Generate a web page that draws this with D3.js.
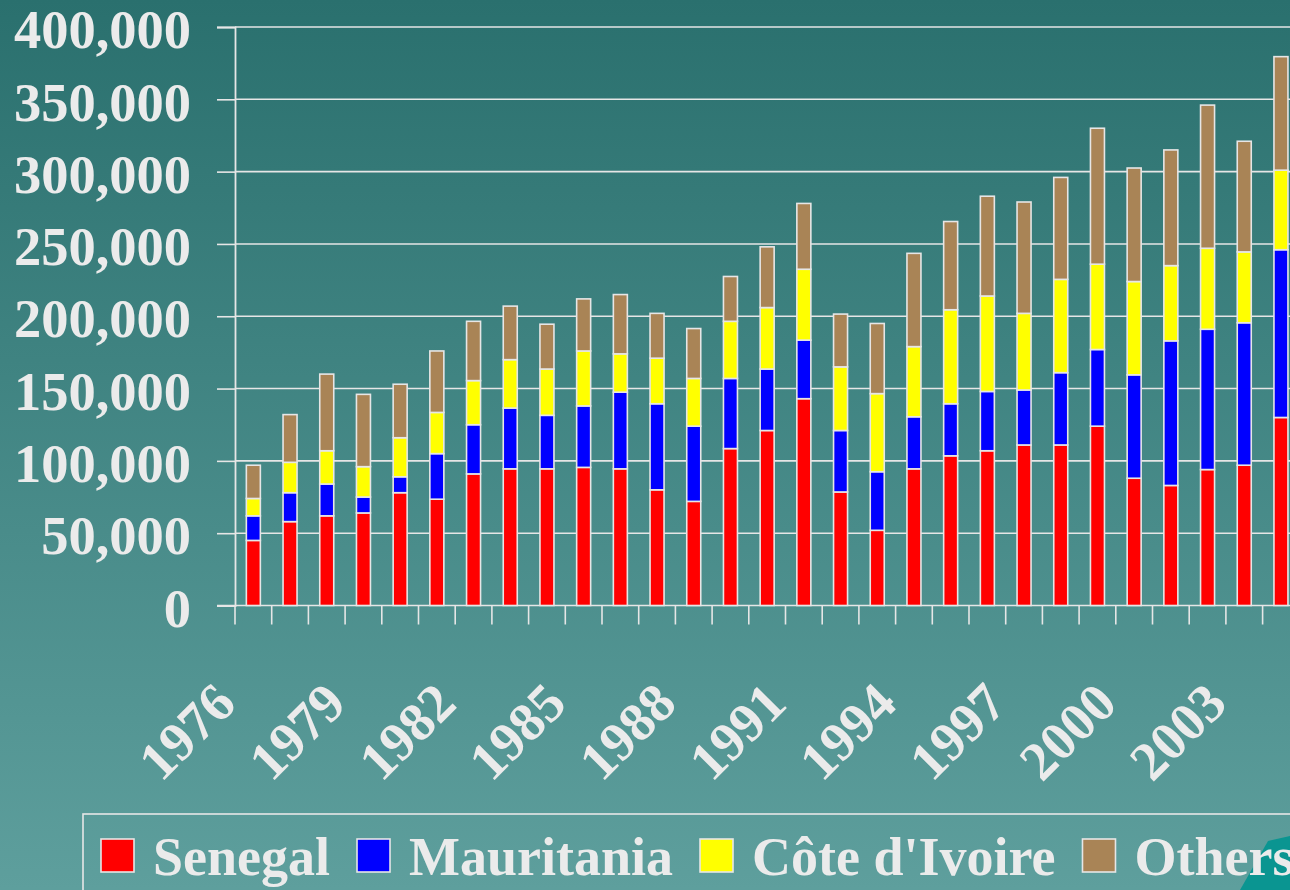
<!DOCTYPE html>
<html>
<head>
<meta charset="utf-8">
<script src="https://cdn.jsdelivr.net/npm/d3@7"></script>
<style>
  body { margin: 0; padding: 0; overflow: hidden; }
  svg text { font-family: "Liberation Serif", "Times New Roman", serif; font-weight: bold; fill: #ebebeb; }
</style>
</head>
<body>
<div id="chart"></div>
<script>
// years on the category axis
var years = d3.range(1976, 2005);

// catches per country, in tonnes
var senegal    = [45000, 58000, 62000, 64000, 78000, 73500, 91000, 94500, 94500, 95500,
                  94500, 80000, 72000, 108500, 121000, 143000, 78500, 52000, 94500, 103500,
                  107000, 111000, 111000, 124000, 88000, 83000, 94000, 97000, 130000];
var mauritania = [17000, 20000, 22000, 11000, 11000, 31500, 34000, 42000, 37000, 42500,
                  53000, 59500, 52000, 48500, 42500, 40500, 42500, 40500, 36000, 36000,
                  41000, 38000, 50000, 53000, 71500, 100000, 97000, 98500, 116000];
var coteIvoire = [12000, 21000, 23000, 21000, 27000, 28500, 30500, 33500, 32000, 38000,
                  26500, 31500, 33000, 39500, 42500, 49000, 44000, 54000, 48500, 65000,
                  66000, 53000, 64500, 59000, 64500, 52000, 56000, 49000, 55000];
var others     = [23000, 33000, 53000, 50000, 37000, 42500, 41000, 37000, 31000, 36000,
                  41000, 31000, 34500, 31000, 42000, 45500, 36500, 48500, 64500, 61000,
                  69000, 77000, 70500, 94000, 78500, 80000, 99000, 76500, 78500];

var seriesNames  = ["Senegal", "Mauritania", "Côte d'Ivoire", "Others"];
var seriesColors = ["#ff0000", "#0000ff", "#ffff00", "#a98456"];
var yTicks = d3.range(0, 400001, 50000);

var width = 1290, height = 890;
var margin = { top: 27, left: 235, bottom: 284.5 };
var fontSize = "54.5px";

var svg = d3.select("#chart").append("svg")
	.attr("width", width)
	.attr("height", height);

// background gradient
var defs = svg.append("defs");
var grad = defs.append("linearGradient")
	.attr("id", "bg")
	.attr("x1", "0%").attr("y1", "0%")
	.attr("x2", "0%").attr("y2", "100%");
grad.append("stop").attr("offset", "0%").attr("stop-color", "#2a706e");
grad.append("stop").attr("offset", "100%").attr("stop-color", "#5e9f9d");

svg.append("rect")
	.attr("width", width)
	.attr("height", height)
	.attr("fill", "url(#bg)");

// scales
var step = 36.7;
var x = d3.scaleBand()
	.domain(years)
	.range([margin.left, margin.left + step * years.length])
	.padding(0);

var y = d3.scaleLinear()
	.domain([0, 400000])
	.range([height - margin.bottom, margin.top]);

// stack the data
var rows = years.map(function(yr, i) {
	return { year: yr, s0: senegal[i], s1: mauritania[i], s2: coteIvoire[i], s3: others[i] };
});
var stack = d3.stack().keys(["s0", "s1", "s2", "s3"]);
var stacked = stack(rows);

// gridlines
svg.append("g")
	.selectAll("line")
	.data(yTicks.slice(1))
	.enter().append("line")
	.attr("x1", margin.left)
	.attr("x2", width)
	.attr("y1", function(d) { return y(d); })
	.attr("y2", function(d) { return y(d); })
	.attr("stroke", "#e6e6e6")
	.attr("stroke-width", 1.6);

// y axis
var yAxis = svg.append("g")
	.attr("transform", "translate(" + margin.left + ",0)")
	.call(d3.axisLeft(y).tickValues(yTicks).tickFormat(d3.format(",")).tickSize(18).tickPadding(26));
yAxis.select(".domain").attr("stroke", "#e6e6e6").attr("stroke-width", 1.8);
yAxis.selectAll(".tick line").attr("stroke", "#e6e6e6").attr("stroke-width", 1.6);
yAxis.selectAll(".tick text")
	.attr("fill", "#ebebeb")
	.style("font-size", fontSize)
	.attr("dy", "0.38em");

// x axis baseline and ticks at category edges
var xTickPos = years.map(function(d) { return x(d); });
svg.append("line")
	.attr("x1", margin.left - 18)
	.attr("x2", width)
	.attr("y1", y(0))
	.attr("y2", y(0))
	.attr("stroke", "#e6e6e6")
	.attr("stroke-width", 1.6);
svg.append("g")
	.selectAll("line")
	.data(xTickPos)
	.enter().append("line")
	.attr("x1", function(d) { return d; })
	.attr("x2", function(d) { return d; })
	.attr("y1", y(0))
	.attr("y2", y(0) + 19)
	.attr("stroke", "#e6e6e6")
	.attr("stroke-width", 1.6);

// bars
var barW = 14;
svg.append("g")
	.selectAll("g")
	.data(stacked)
	.enter().append("g")
	.attr("fill", function(d, i) { return seriesColors[i]; })
	.selectAll("rect")
	.data(function(d) { return d; })
	.enter().append("rect")
	.attr("x", function(d) { return x(d.data.year) + x.bandwidth() / 2 - barW / 2; })
	.attr("y", function(d) { return y(d[1]); })
	.attr("width", barW)
	.attr("height", function(d) { return y(d[0]) - y(d[1]); })
	.attr("stroke", "#e6e6e6")
	.attr("stroke-width", 1.6);

// year labels every third year, rotated
svg.append("g")
	.selectAll("text")
	.data(years.filter(function(d, i) { return i % 3 === 0; }))
	.enter().append("text")
	.attr("transform", function(d) {
		return "translate(" + (x(d) + x.bandwidth() / 2 - 15) + ",706) rotate(-45)";
	})
	.attr("text-anchor", "end")
	.style("font-size", fontSize)
	.text(function(d) { return d; });

// legend
var legend = svg.append("g");
legend.append("rect")
	.attr("x", 83)
	.attr("y", 814)
	.attr("width", 1260)
	.attr("height", 120)
	.attr("fill", "none")
	.attr("stroke", "#e6e6e6")
	.attr("stroke-width", 1.6);

// corner decoration from the slide template (behind legend text)
legend.append("path")
	.attr("d", "M1240,890 L1268,841 L1290,836 L1290,890 Z")
	.attr("fill", "#0a9591");

var lx = 101;
seriesNames.forEach(function(name, i) {
	legend.append("rect")
		.attr("x", lx)
		.attr("y", 839)
		.attr("width", 33)
		.attr("height", 33)
		.attr("fill", seriesColors[i])
		.attr("stroke", "#e6e6e6")
		.attr("stroke-width", 1.6);
	var t = legend.append("text")
		.attr("x", lx + 52)
		.attr("y", 875)
		.style("font-size", "54px")
		.text(name);
	lx = lx + 52 + t.node().getComputedTextLength() + 27;
});
</script>
</body>
</html>
